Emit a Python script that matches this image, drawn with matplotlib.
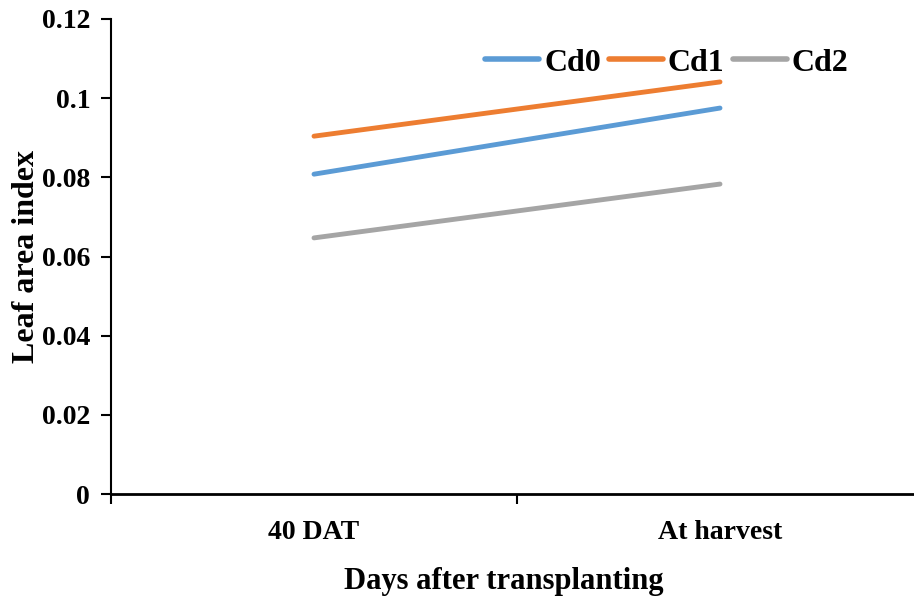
import matplotlib
matplotlib.use("Agg")
import matplotlib.pyplot as plt

categories = ["40 DAT", "At harvest"]
series_names = ["Cd0", "Cd1", "Cd2"]
cd0 = [0.0808, 0.0975]
cd1 = [0.0904, 0.1041]
cd2 = [0.0647, 0.0783]
colors = ["#5B9BD5", "#ED7D31", "#A5A5A5"]

plt.rcParams["font.family"] = ["Liberation Serif", "DejaVu Serif"]
plt.rcParams["font.weight"] = "bold"

W, H = 914, 599
fig = plt.figure(figsize=(W / 100, H / 100), dpi=100)
left, right, top, bottom = 111, 923, 19, 494
ax = fig.add_axes([left / W, 1 - bottom / H, (right - left) / W, (bottom - top) / H])

x = list(range(len(categories)))
for name, vals, c in zip(series_names, [cd0, cd1, cd2], colors):
    ax.plot(x, vals, color=c, lw=3.5, solid_capstyle="round", label=name)

ax.set_xlim(-0.5, 1.5)
ax.set_ylim(0, 0.12)
ax.set_yticks([0, 0.02, 0.04, 0.06, 0.08, 0.1, 0.12])
ax.set_yticklabels(["0", "0.02", "0.04", "0.06", "0.08", "0.1", "0.12"])
ax.set_xticks(x)
ax.set_xticklabels(categories)
ax.set_xticks([-0.5, 0.5, 1.5], minor=True)
ax.tick_params(axis="x", which="major", length=0, pad=19, labelsize=20)
ax.tick_params(axis="x", which="minor", length=7, width=1.5, direction="out")
ax.tick_params(axis="y", length=7, width=1.5, direction="out", labelsize=20, pad=8)
for lbl in ax.get_xticklabels() + ax.get_yticklabels():
    lbl.set_fontweight("bold")

for s in ["top", "right"]:
    ax.spines[s].set_visible(False)
ax.spines["left"].set_linewidth(1.5)
ax.spines["bottom"].set_linewidth(2)

ax.set_ylabel("Leaf area index", fontsize=23, fontweight="bold")
ax.set_xlabel("Days after transplanting", fontsize=22, fontweight="bold")
ax.yaxis.set_label_coords((27 - left) / (right - left), 0.5)
ax.xaxis.set_label_coords((504 - left) / (right - left), -(581 - bottom) / (bottom - top))
ax.xaxis.label.set_va("center")
ax.yaxis.label.set_va("center")

leg = ax.legend(loc="center left",
                bbox_to_anchor=((485 - left) / (right - left), (bottom - 63) / (bottom - top)),
                ncol=3, frameon=False, fontsize=23, handlelength=1.7, handletextpad=0.15,
                columnspacing=0.25, borderaxespad=0, borderpad=0)
for t in leg.get_texts():
    t.set_fontweight("bold")
for h in leg.get_lines():
    h.set_linewidth(4)

fig.savefig("out.png", dpi=100)
